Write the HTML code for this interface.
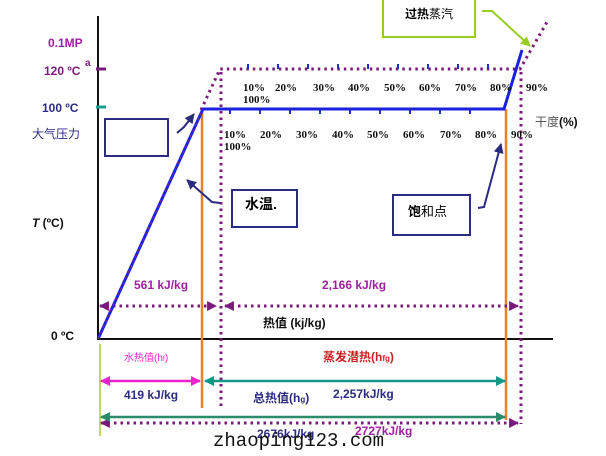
<!DOCTYPE html>
<html><head><meta charset="utf-8"><style>
body{margin:0;background:#fff;}
svg{display:block;font-family:"Liberation Sans","Noto Sans CJK SC",sans-serif;}
.b{font-weight:bold}
</style></head><body>
<svg width="606" height="456" viewBox="0 0 606 456">
<defs>
<marker id="ap" viewBox="0 0 10 10" refX="9" refY="5" markerWidth="3.3" markerHeight="3.3" orient="auto-start-reverse"><path d="M0,0L10,5L0,10z" fill="#7a1a7a"/></marker>
<marker id="ak" viewBox="0 0 10 10" refX="9" refY="5" markerWidth="4" markerHeight="4" orient="auto-start-reverse"><path d="M0,0L10,5L0,10z" fill="#ee22cc"/></marker>
<marker id="at" viewBox="0 0 10 10" refX="9" refY="5" markerWidth="4" markerHeight="4" orient="auto-start-reverse"><path d="M0,0L10,5L0,10z" fill="#109888"/></marker>
<marker id="ag" viewBox="0 0 10 10" refX="9" refY="5" markerWidth="4" markerHeight="4" orient="auto-start-reverse"><path d="M0,0L10,5L0,10z" fill="#2a8a6a"/></marker>
<marker id="an" viewBox="0 0 10 10" refX="9" refY="5" markerWidth="5" markerHeight="5" orient="auto"><path d="M0,0L10,5L0,10z" fill="#2b2b80"/></marker>
<marker id="al" viewBox="0 0 10 10" refX="9" refY="5" markerWidth="5" markerHeight="5" orient="auto"><path d="M0,0L10,5L0,10z" fill="#99cc22"/></marker>
</defs>
<line x1="98" y1="16" x2="98" y2="340" stroke="#111" stroke-width="2"/>
<line x1="98" y1="339" x2="553" y2="339" stroke="#111" stroke-width="2"/>
<line x1="100" y1="344" x2="100" y2="436" stroke="#aacc33" stroke-width="1.5"/>
<line x1="96" y1="69" x2="106" y2="69" stroke="#7a1a7a" stroke-width="3"/>
<line x1="96" y1="107" x2="106" y2="107" stroke="#1aa090" stroke-width="3"/>
<line x1="202" y1="109" x2="202" y2="408" stroke="#f07f20" stroke-width="2.5"/>
<line x1="506" y1="109" x2="506" y2="420" stroke="#f07f20" stroke-width="2.5"/>
<g stroke="#7a1a7a" stroke-width="3" stroke-dasharray="2.5,4" fill="none">
<polyline points="201,110 220,69 520,69 547,22"/>
<line x1="221" y1="72" x2="221" y2="408"/>
<line x1="521" y1="72" x2="521" y2="424"/>
<line x1="100" y1="306" x2="216" y2="306" marker-start="url(#ap)" marker-end="url(#ap)"/>
<line x1="225" y1="306" x2="518" y2="306" marker-start="url(#ap)" marker-end="url(#ap)"/>
<line x1="101" y1="423" x2="518" y2="423" marker-start="url(#ap)" marker-end="url(#ap)"/>
</g>
<polyline points="98,339 203,109 504,109 522,50" fill="none" stroke="#1a22dd" stroke-width="3"/>
<line x1="98" y1="339" x2="203" y2="109" stroke="#8a2090" stroke-width="1" stroke-dasharray="3,3"/>
<g stroke="#2030c0" stroke-width="2">
<line x1="230" y1="109" x2="230" y2="114"/><line x1="260" y1="109" x2="260" y2="114"/><line x1="290" y1="109" x2="290" y2="114"/><line x1="320" y1="109" x2="320" y2="114"/><line x1="350" y1="109" x2="350" y2="114"/><line x1="380" y1="109" x2="380" y2="114"/><line x1="410" y1="109" x2="410" y2="114"/><line x1="440" y1="109" x2="440" y2="114"/><line x1="470" y1="109" x2="470" y2="114"/>
<line x1="248" y1="64" x2="248" y2="69"/><line x1="278" y1="64" x2="278" y2="69"/><line x1="308" y1="64" x2="308" y2="69"/><line x1="338" y1="64" x2="338" y2="69"/><line x1="368" y1="64" x2="368" y2="69"/><line x1="398" y1="64" x2="398" y2="69"/><line x1="428" y1="64" x2="428" y2="69"/><line x1="458" y1="64" x2="458" y2="69"/><line x1="488" y1="64" x2="488" y2="69"/>
</g>
<line x1="101" y1="381" x2="200" y2="381" stroke="#ee22cc" stroke-width="2.5" marker-start="url(#ak)" marker-end="url(#ak)"/>
<line x1="205" y1="381" x2="505" y2="381" stroke="#109888" stroke-width="2.5" marker-start="url(#at)" marker-end="url(#at)"/>
<line x1="101" y1="417" x2="505" y2="417" stroke="#2a8a6a" stroke-width="2.5" marker-start="url(#ag)" marker-end="url(#ag)"/>
<g fill="#fff" stroke="#2b2b80" stroke-width="2">
<rect x="105" y="119" width="63" height="37"/>
<rect x="232" y="190" width="65" height="37"/>
<rect x="393" y="195" width="77" height="40"/>
</g>
<rect x="383" y="-2" width="92" height="39" fill="#fff" stroke="#99cc22" stroke-width="2"/>
<g fill="none" stroke-width="2">
<path d="M177,133 L184,127 L194,114" stroke="#2b2b80" marker-end="url(#an)"/>
<path d="M220,203 L212,202 L187,180" stroke="#2b2b80" marker-end="url(#an)"/>
<path d="M478,208 L484,207 L501,144" stroke="#2b2b80" marker-end="url(#an)"/>
<path d="M482,11 L492,11 L530,46" stroke="#99cc22" marker-end="url(#al)"/>
</g>
<text x="48" y="47" class="b" fill="#a020a0" font-size="12">0.1MP</text>
<text x="44" y="75" class="b" fill="#7a1a7a" font-size="12">120 ºC</text>
<text x="85" y="66" class="b" fill="#7a1a7a" font-size="10">a</text>
<text x="42" y="112" class="b" fill="#2b2b80" font-size="12">100 ºC</text>
<text x="32" y="138" fill="#2b2b80" font-size="12">大气压力</text>
<text x="32" y="227" fill="#111" font-size="12" class="b"><tspan font-style="italic">T</tspan> (ºC)</text>
<text x="51" y="340" fill="#111" font-size="12" class="b">0 ºC</text>
<text x="245" y="209" class="b" font-size="14">水温.</text>
<text x="408" y="216" font-size="13"><tspan class="b">饱</tspan>和点</text>
<text x="405" y="18" font-size="12"><tspan class="b">过热</tspan>蒸汽</text>
<text x="535" y="126" fill="#555" font-size="12">干度<tspan class="b" fill="#111">(%)</tspan></text>
<g font-family="Liberation Serif,serif" font-size="11" fill="#111" class="b">
<text x="243" y="91">10%</text><text x="243" y="103">100%</text>
<text x="275" y="91">20%</text><text x="313" y="91">30%</text><text x="348" y="91">40%</text><text x="384" y="91">50%</text><text x="419" y="91">60%</text><text x="455" y="91">70%</text><text x="490" y="91">80%</text><text x="526" y="91">90%</text>
<text x="224" y="138">10%</text><text x="224" y="150">100%</text>
<text x="260" y="138">20%</text><text x="296" y="138">30%</text><text x="332" y="138">40%</text><text x="367" y="138">50%</text><text x="403" y="138">60%</text><text x="440" y="138">70%</text><text x="475" y="138">80%</text><text x="511" y="138">90%</text>
</g>
<text x="134" y="289" class="b" fill="#a020a0" font-size="12">561 kJ/kg</text>
<text x="322" y="289" class="b" fill="#a020a0" font-size="12">2,166 kJ/kg</text>
<text x="263" y="327" class="b" fill="#111" font-size="12">热值 (kj/kg)</text>
<text x="124" y="361" fill="#ee22cc" font-size="10">水热值(h<tspan font-size="7">f</tspan>)</text>
<text x="323" y="361" fill="#cc2222" font-size="12" class="b">蒸发潜热(h<tspan font-size="8">fg</tspan>)</text>
<text x="124" y="399" class="b" fill="#2b2b80" font-size="12">419 kJ/kg</text>
<text x="253" y="402" class="b" fill="#2b2b80" font-size="12">总热值(h<tspan font-size="8">g</tspan>)</text>
<text x="333" y="398" class="b" fill="#2b2b80" font-size="12">2,257kJ/kg</text>
<text x="257" y="438" class="b" fill="#2b2b80" font-size="12">2676kJ/kg</text>
<text x="355" y="435" class="b" fill="#a020a0" font-size="12">2727kJ/kg</text>
<text x="213" y="446" font-family="Liberation Mono,monospace" font-size="19" fill="#111">zhaoping123.com</text>
</svg>
</body></html>
